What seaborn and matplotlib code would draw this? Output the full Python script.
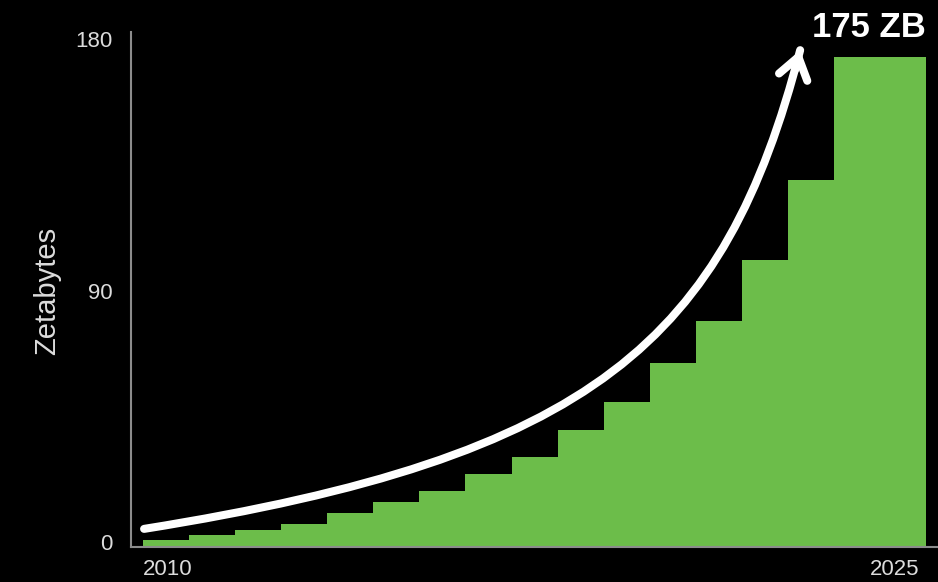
import matplotlib
matplotlib.use("Agg")
import matplotlib.pyplot as plt
import matplotlib.transforms as mtransforms
from matplotlib.path import Path
from matplotlib.patches import PathPatch
import pandas as pd
import seaborn as sns

# ---- data ----
years = [2010, 2011, 2012, 2013, 2014, 2015, 2016, 2017,
         2018, 2019, 2020, 2021, 2022, 2023, 2024, 2025]
zettabytes = [2.4, 4.2, 6.0, 8.1, 12.0, 16.0, 19.8, 25.9,
              32.0, 41.7, 51.7, 65.6, 80.6, 102.4, 131.0, 175.0]
y_ticks = [0, 90, 180]
x_tick_labels = ["2010", "2025"]
headline = "175 ZB"
y_title = "Zetabytes"

GREEN = "#6cbd4a"
AXIS_GREY = "#8c8c8c"
TEXT = "#dcdcdc"
FONT = ["Liberation Sans", "DejaVu Sans"]

sns.set_theme(style="dark")
plt.rcParams["font.family"] = FONT
plt.rcParams["axes.facecolor"] = "black"
plt.rcParams["figure.facecolor"] = "black"

df = pd.DataFrame({"year": years, "zb": zettabytes})
# bin edges: one year per bar, the final bar drawn double width
edges = years + [years[-1] + 2]

fig = plt.figure(figsize=(9.38, 5.82), dpi=100)
ax = fig.add_axes([131 / 938, 35.5 / 582, 807 / 938, 514.5 / 582])

sns.histplot(data=df, x="year", weights="zb", bins=edges, color=GREEN,
             alpha=1, linewidth=0, edgecolor=GREEN, ax=ax)

ax.set_xlim(2009.746, 2027.25)
ax.set_ylim(0, 184)
ax.grid(False)

for side in ["top", "right"]:
    ax.spines[side].set_visible(False)
for side in ["left", "bottom"]:
    ax.spines[side].set_visible(True)
    ax.spines[side].set_color(AXIS_GREY)
    ax.spines[side].set_linewidth(1.5)

ax.set_yticks(y_ticks)
ax.set_yticklabels([str(v) for v in y_ticks])
ax.set_xticks([2010.55, 2026.3])
ax.set_xticklabels(x_tick_labels)
ax.tick_params(axis="both", length=0, labelsize=16, labelcolor=TEXT)
ax.tick_params(axis="y", pad=13)
ax.tick_params(axis="x", pad=9)
shift = mtransforms.ScaledTranslation(0, 4 / 100, fig.dpi_scale_trans)
for lab in ax.get_yticklabels():
    lab.set_transform(lab.get_transform() + shift)

ax.set_xlabel("")
ax.set_ylabel("")
fig.text(46.7 / 938, 1 - 290.5 / 582, y_title, rotation=90, ha="center",
         va="center", fontsize=21, color=TEXT)

# curved growth arrow (annotation)
p0 = (2010.03, 6.3)
p1 = (2019.79, 32.0)
p2 = (2022.62, 73.7)
p3 = (2024.26, 177.5)
curve = Path([p0, p1, p2, p3],
             [Path.MOVETO, Path.CURVE4, Path.CURVE4, Path.CURVE4])
ax.add_patch(PathPatch(curve, facecolor="none", edgecolor="white",
                       linewidth=5.8, capstyle="round", zorder=5))
ax.annotate("", xy=p3, xytext=(p3[0] - 0.11, p3[1] - 7.0),
            arrowprops=dict(arrowstyle="->,head_length=1.5,head_width=1.05",
                            mutation_scale=10, color="white", lw=5.8,
                            shrinkA=0, shrinkB=0, capstyle="round",
                            joinstyle="round"),
            zorder=6)

fig.text(926 / 938, 1 - 37 / 582, headline, ha="right", va="baseline",
         fontsize=25, fontweight="bold", color="white")

fig.savefig("out.png", dpi=100, facecolor="black")
